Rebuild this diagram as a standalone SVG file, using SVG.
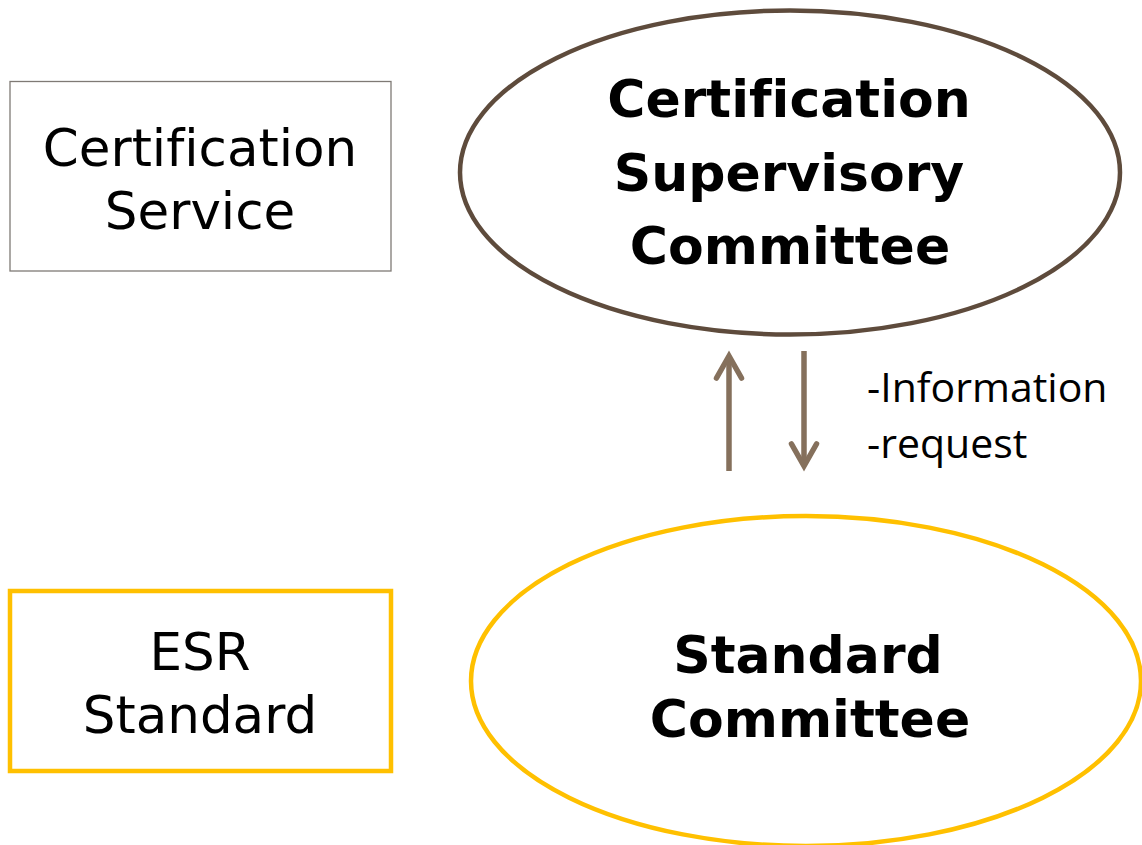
<svg xmlns="http://www.w3.org/2000/svg" width="1142" height="845" viewBox="0 0 1142 845">
  <style>
    text { font-variant-ligatures: none; }
    .reg { font-family: "DejaVu Sans", Verdana, sans-serif; font-size: 51.5px; fill: #000; text-anchor: middle; }
    .bold { font-family: "DejaVu Sans", Verdana, sans-serif; font-weight: bold; font-size: 52px; fill: #000; text-anchor: middle; }
    .note { font-family: "Open Sans", "Noto Sans", sans-serif; font-size: 41px; fill: #000; }
    .conn { stroke: #85705C; stroke-width: 5.5; fill: none; }
  </style>
  <defs>
    <marker id="chev" markerUnits="userSpaceOnUse" orient="auto" viewBox="-30 -20 40 40" refX="0" refY="0" markerWidth="40" markerHeight="40">
      <path d="M-22,-12.5 L0,0 L-22,12.5" fill="none" stroke="#85705C" stroke-width="5.5" stroke-linecap="round" stroke-linejoin="miter"/>
    </marker>
  </defs>
  <rect x="0" y="0" width="1142" height="845" fill="#ffffff"/>

  <g id="certification-service">
    <rect x="10" y="81.5" width="381" height="189.5" fill="#ffffff" stroke="#7f7a75" stroke-width="1.3"/>
    <text class="reg" x="200" y="166">Certification</text>
    <text class="reg" x="200" y="229">Service</text>
  </g>

  <g id="esr-standard">
    <rect x="10" y="591" width="381" height="180" fill="#ffffff" stroke="#FFC000" stroke-width="4.5"/>
    <text class="reg" x="200" y="670">ESR</text>
    <text class="reg" x="200" y="733">Standard</text>
  </g>

  <g id="certification-supervisory-committee">
    <ellipse cx="790" cy="172.5" rx="330" ry="162" fill="#ffffff" stroke="#5E4B3C" stroke-width="4.5"/>
    <text class="bold" x="789" y="117">Certification</text>
    <text class="bold" x="789" y="190.5">Supervisory</text>
    <text class="bold" x="790" y="264">Committee</text>
  </g>

  <g id="standard-committee">
    <ellipse cx="806" cy="681" rx="335" ry="165" fill="#ffffff" stroke="#FFC000" stroke-width="4.5"/>
    <text class="bold" x="808" y="673">Standard</text>
    <text class="bold" x="810" y="737">Committee</text>
  </g>

  <g id="connectors">
    <line class="conn" x1="729" y1="471" x2="729" y2="356" marker-end="url(#chev)"/>
    <line class="conn" x1="804" y1="351" x2="804" y2="466" marker-end="url(#chev)"/>
    <text class="note" x="867" y="402">-Information</text>
    <text class="note" x="867" y="458">-request</text>
  </g>
</svg>
